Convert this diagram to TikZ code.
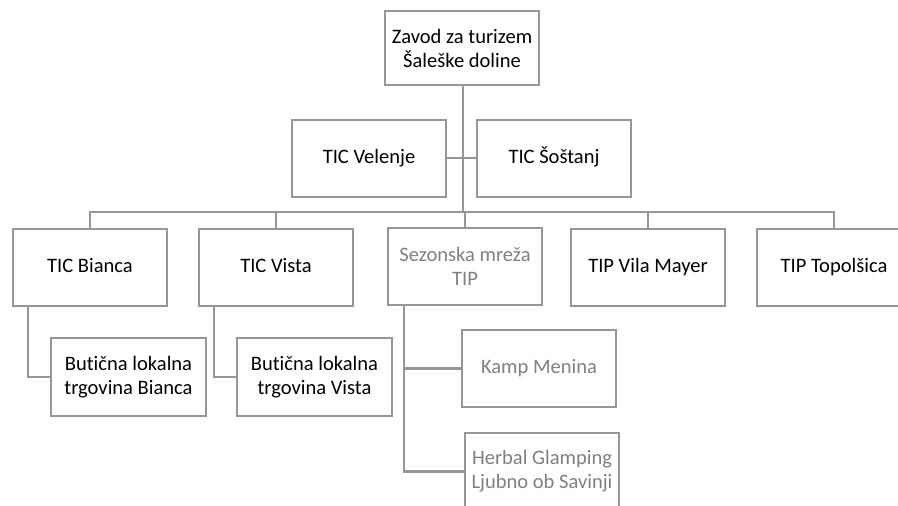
\documentclass[tikz,border=0pt]{standalone}
\usepackage{fontspec}
\setmainfont[Ligatures=NoCommon]{Carlito}
\definecolor{linegray}{RGB}{150,150,150}
\definecolor{textgray}{RGB}{128,128,128}
\begin{document}
\begin{tikzpicture}[x=0.75pt,y=-0.75pt,
  box/.style={draw=linegray, line width=1.8pt, fill=white, minimum width=115.5pt, minimum height=57.75pt,
    align=center, inner sep=1pt, font=\fontsize{15.4}{18}\selectfont, text=black},
  one/.style={text height=10.5pt, text depth=3.5pt},
  greybox/.style={box, text=textgray},
  conn/.style={draw=linegray, line width=1.8pt}]
\useasboundingbox (0,0) rectangle (898,506);
\clip (0,0) rectangle (898,506);
\fill[white] (0,0) rectangle (898,506);
% nodes
\node[box, minimum height=55.5pt] (top) at (462,48) {Zavod za turizem\\Šaleške doline};
\node[box, one] (vel) at (369,158.5) {TIC Velenje};
\node[box, one] (sos) at (554,158.5) {TIC Šoštanj};
\node[box, one] (bia) at (90,267.5) {TIC Bianca};
\node[box, one] (vis) at (276,267.5) {TIC Vista};
\node[greybox] (sez) at (465,266.5) {Sezonska mreža\\TIP};
\node[box, one] (vil) at (648,267.5) {TIP Vila Mayer};
\node[box, one] (top2) at (834,267.5) {TIP Topolšica};
\node[box, minimum width=116.25pt, minimum height=58.5pt] (bbia) at (128.5,377) {Butična lokalna\\trgovina Bianca};
\node[box, minimum width=116.25pt, minimum height=58.5pt] (bvis) at (314.5,377) {Butična lokalna\\trgovina Vista};
\node[greybox, one] (kamp) at (539,368.5) {Kamp Menina};
\node[greybox] (herb) at (542,471.5) {Herbal Glamping\\Ljubno ob Savinji};
% coordinates
\coordinate (spine) at (463,212);
\coordinate (velJ) at (463,158);
% connectors
\draw[conn] (top.south -| spine) -- (spine);
\draw[conn] (vel.east |- velJ) -- (velJ);
\draw[conn] (sos.west |- velJ) -- (velJ);
\draw[conn] (bia.north) |- (spine) -| (top2.north);
\draw[conn] (vis.north |- spine) -- (vis.north);
\draw[conn] (sez.north |- spine) -- (sez.north);
\draw[conn] (vil.north |- spine) -- (vil.north);
\coordinate (biaX) at (28,306);
\coordinate (visX) at (214,306);
\coordinate (sezX) at (404,306);
\draw[conn] (biaX |- bia.south) |- (bbia.west);
\draw[conn] (visX |- vis.south) |- (bvis.west);
\draw[conn] (sezX |- sez.south) |- (herb.west);
\draw[conn] (sezX |- kamp.west) -- (kamp.west);
\end{tikzpicture}
\end{document}
